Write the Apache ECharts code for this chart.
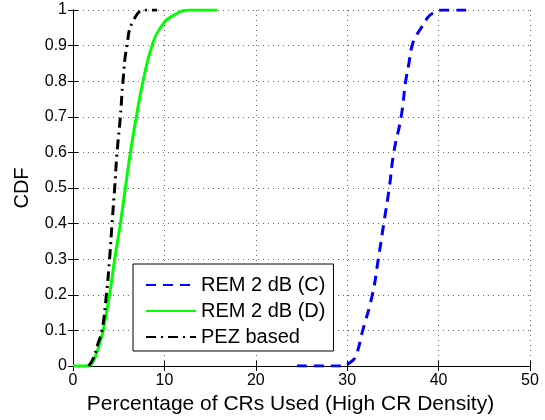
<!DOCTYPE html>
<html lang="en">
<head>
    <meta charset="UTF-8">
    <title>CDF of CRs used</title>
    <style>
        html, body { margin: 0; padding: 0; background: #fff; }
        #box { width: 545px; height: 420px; }
    </style>
</head>
<body>
    <div id="box"></div>
    <script src="https://cdn.jsdelivr.net/npm/echarts@6/dist/echarts.min.js"></script>
    <script>
        // ticks
        var xTicks = [0, 10, 20, 30, 40, 50];
        var yTicks = [0, 0.1, 0.2, 0.3, 0.4, 0.5, 0.6, 0.7, 0.8, 0.9, 1];

        // REM 2 dB (C)
        var remCx = [24.5, 29.5, 30.3, 30.9, 31.7, 32.75, 33.4, 34.0, 34.6, 35.1, 35.9, 36.4, 36.75, 37.1, 37.6, 38.1, 38.7, 39.3, 40.4, 43.5];
        var remCy = [0, 0, 0.01, 0.026, 0.1, 0.2, 0.3, 0.4, 0.5, 0.6, 0.7, 0.8, 0.85, 0.9, 0.93, 0.95, 0.975, 0.99, 1, 1];

        // REM 2 dB (D)
        var remDx = [0, 1.5, 2, 2.5, 3, 3.3, 4.0, 4.56, 5.18, 5.73, 6.28, 6.93, 7.66, 8.65, 9.56, 11, 13, 15.8];
        var remDy = [0, 0, 0.005, 0.03, 0.07, 0.1, 0.2, 0.3, 0.4, 0.5, 0.6, 0.7, 0.8, 0.9, 0.95, 0.985, 1, 1];

        // PEZ based
        var pezX = [1.7, 2.2, 2.7, 3.17, 3.65, 4.0, 4.27, 4.56, 4.82, 5.18, 5.47, 5.9, 6.6, 7.9, 9.2];
        var pezY = [0, 0.02, 0.06, 0.1, 0.2, 0.3, 0.4, 0.5, 0.6, 0.7, 0.8, 0.9, 0.97, 1, 1];

        function pairs(xs, ys) {
            var out = [];
            for (var i = 0; i < xs.length; i++) out.push([xs[i], ys[i]]);
            return out;
        }

        var font = "'Liberation Sans', Arial, Helvetica, sans-serif";
        var box = echarts.init(document.getElementById("box"));

        var gridDots = { color: "#666", type: [1, 4], width: 1 };

        var option = {
            animation: false,
            textStyle: { fontFamily: font },
            grid: { left: 73, right: 15, top: 10, bottom: 54 },
            legend: {
                orient: "vertical",
                left: 133,
                top: 264,
                padding: [11, 8, 4, 12],
                itemGap: 6,
                itemWidth: 50,
                itemHeight: 14,
                borderColor: "#000",
                borderWidth: 1,
                backgroundColor: "#fff",
                itemStyle: { opacity: 0 },
                textStyle: { fontSize: 20, color: "#000", fontFamily: font },
                data: ["REM 2 dB (C)", "REM 2 dB (D)", "PEZ based"]
            },
            xAxis: [{
                type: "value",
                min: xTicks[0],
                max: xTicks[xTicks.length - 1],
                interval: 10,
                name: "Percentage of CRs Used (High CR Density)",
                nameLocation: "middle",
                nameGap: 27,
                nameTextStyle: { fontSize: 21, color: "#000", padding: [0, 22, 0, 0] },
                axisLine: { lineStyle: { color: "#000", width: 1 } },
                axisTick: { inside: true, length: 5, lineStyle: { color: "#000" } },
                axisLabel: { fontSize: 16, color: "#000", margin: 7 },
                splitLine: { show: true, lineStyle: gridDots }
            }, {
                type: "value",
                position: "top",
                min: xTicks[0],
                max: xTicks[xTicks.length - 1],
                interval: 10,
                axisLine: { lineStyle: { color: "#000", width: 1 } },
                axisTick: { inside: true, length: 5, lineStyle: { color: "#000" } },
                axisLabel: { show: false },
                splitLine: { show: false }
            }],
            yAxis: [{
                type: "value",
                min: yTicks[0],
                max: yTicks[yTicks.length - 1],
                interval: 0.1,
                name: "CDF",
                nameLocation: "middle",
                nameGap: 41,
                nameTextStyle: { fontSize: 20, color: "#000" },
                axisLine: { show: true, lineStyle: { color: "#000", width: 1 } },
                axisTick: { show: true, inside: true, length: 5, lineStyle: { color: "#000" } },
                axisLabel: { fontSize: 16, color: "#000", margin: 6 },
                splitLine: { show: true, lineStyle: gridDots }
            }, {
                type: "value",
                position: "right",
                min: yTicks[0],
                max: yTicks[yTicks.length - 1],
                interval: 0.1,
                axisLine: { show: true, lineStyle: { color: "#000", width: 1 } },
                axisTick: { show: true, inside: true, length: 5, lineStyle: { color: "#000" } },
                axisLabel: { show: false },
                splitLine: { show: false }
            }],
            series: [{
                name: "REM 2 dB (C)",
                type: "line",
                showSymbol: false,
                symbol: "none",
                smooth: 0.5,
                color: "#0000ff",
                lineStyle: { color: "#0000ff", width: 3, type: [10, 7] },
                data: pairs(remCx, remCy)
            }, {
                name: "REM 2 dB (D)",
                type: "line",
                showSymbol: false,
                symbol: "none",
                smooth: 0.5,
                color: "#00ff00",
                lineStyle: { color: "#00ff00", width: 3 },
                data: pairs(remDx, remDy)
            }, {
                name: "PEZ based",
                type: "line",
                showSymbol: false,
                symbol: "none",
                smooth: 0.5,
                color: "#000",
                lineStyle: { color: "#000", width: 3, type: [10, 5, 2, 5] },
                data: pairs(pezX, pezY)
            }]
        };
        box.setOption(option);
    </script>
</body>
</html>
